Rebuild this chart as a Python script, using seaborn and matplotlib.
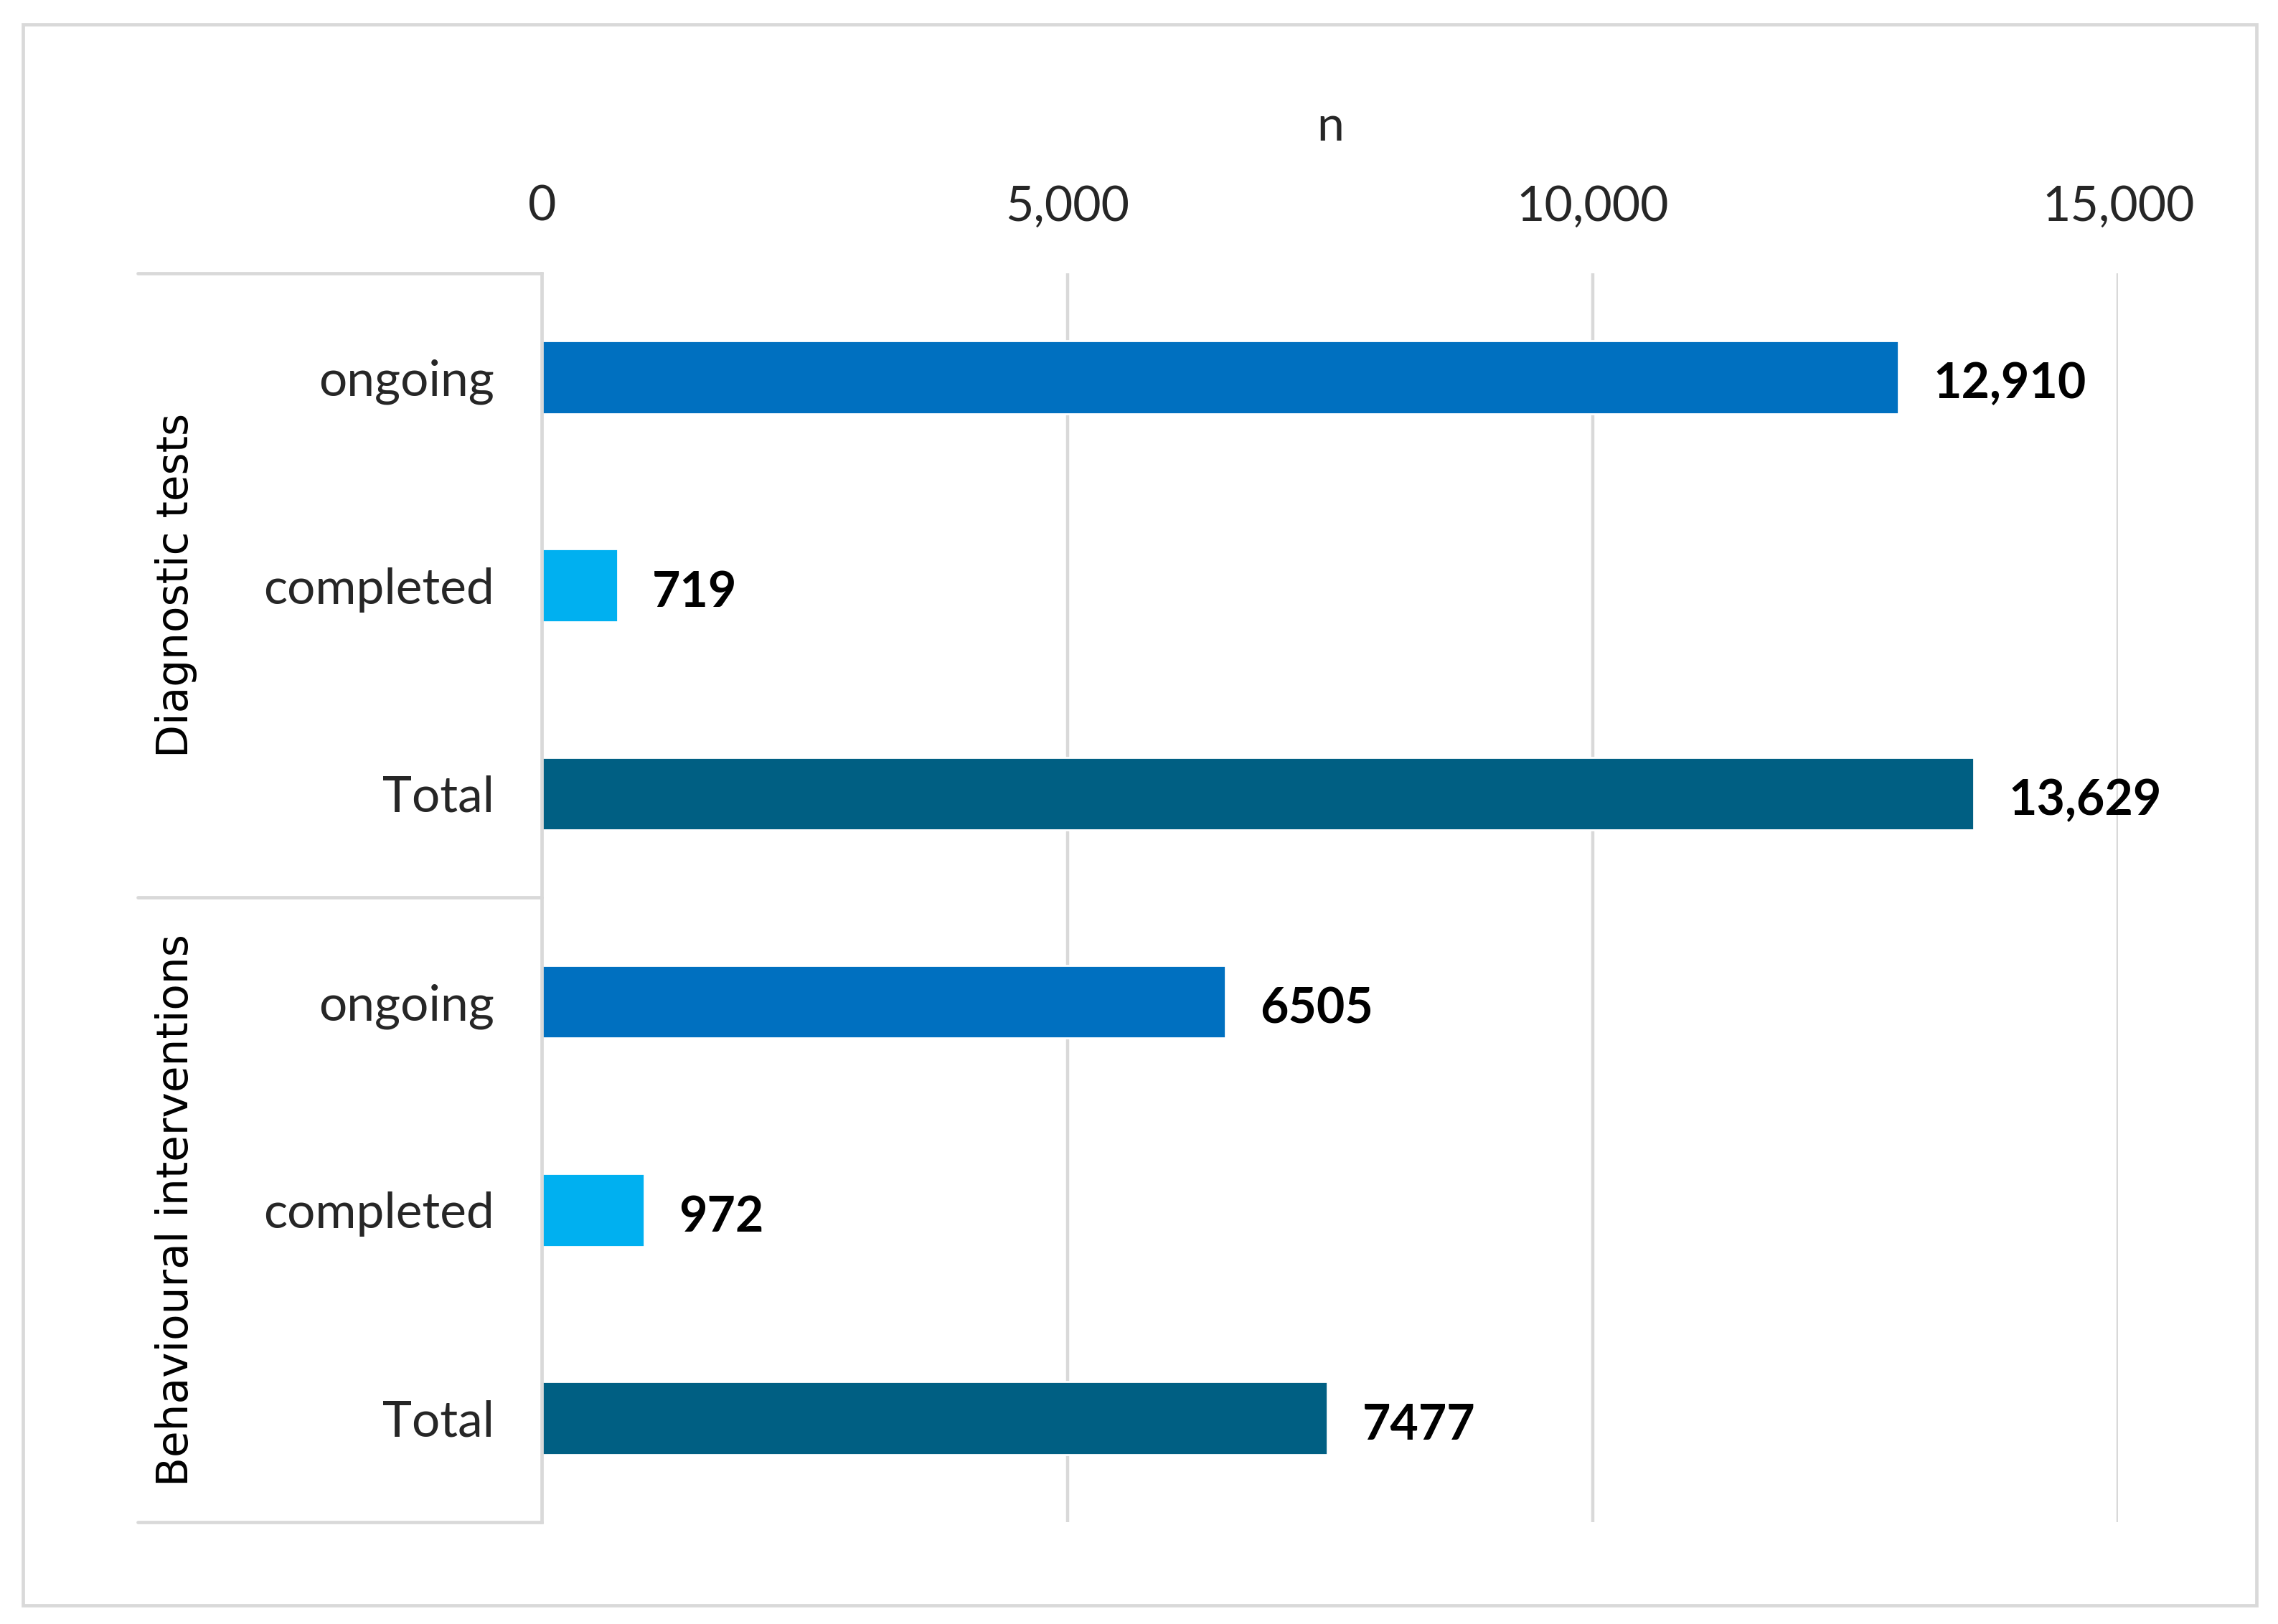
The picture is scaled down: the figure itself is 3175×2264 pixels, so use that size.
import matplotlib
matplotlib.use("Agg")
import matplotlib.pyplot as plt
import matplotlib.transforms as mtransforms
from matplotlib.patches import Rectangle
import seaborn as sns
import pandas as pd

# ---- data ----
groups = ["Diagnostic tests", "Diagnostic tests", "Diagnostic tests",
          "Behavioural interventions", "Behavioural interventions", "Behavioural interventions"]
statuses = ["ongoing", "completed", "Total", "ongoing", "completed", "Total"]
values = [12910, 719, 13629, 6505, 972, 7477]
value_labels = ["12,910", "719", "13,629", "6505", "972", "7477"]
group_names = ["Diagnostic tests", "Behavioural interventions"]
x_ticks = [0, 5000, 10000, 15000]
x_tick_labels = ["0", "5,000", "10,000", "15,000"]
palette = {"ongoing": "#0070C0", "completed": "#00B0F0", "Total": "#005F83"}

df = pd.DataFrame({"group": groups, "status": statuses, "n": values})
df["key"] = df["group"] + "|" + df["status"]

sns.set_theme(style="white")
plt.rcParams["font.family"] = ["Lato", "DejaVu Sans"]

W, H = 3175, 2264
DPI = 200
fig = plt.figure(figsize=(W / DPI, H / DPI), dpi=DPI)

# display-reference coordinates (1568 x 1118)
dw, dh = 1568.0, 1118.0
x0, x15 = 373, 1458
ytop, ybot = 188, 1048
ax = fig.add_axes([x0 / dw, 1 - ybot / dh, (x15 - x0) / dw, (ybot - ytop) / dh])

sns.barplot(data=df, y="key", x="n", hue="status", palette=palette,
            dodge=False, width=0.35, orient="h", ax=ax, legend=False,
            saturation=1, order=list(df["key"]))

ax.set_xlim(0, 15000)
ax.set_ylim(len(df) - 0.5, -0.5)
ax.xaxis.tick_top()
ax.xaxis.set_label_position("top")
ax.set_xticks(x_ticks)
ax.set_xticklabels(x_tick_labels, fontsize=24.5)
ax.set_yticks(range(len(df)))
ax.set_yticklabels(statuses, fontsize=25)
ax.tick_params(axis="x", length=0, pad=22)
ax.tick_params(axis="y", length=0, pad=24)
ax.set_xlabel("n", fontsize=24.5, labelpad=22)
ax.set_ylabel("")

for s in ["top", "right", "bottom"]:
    ax.spines[s].set_visible(False)
ax.spines["left"].set_color("#d9d9d9")
ax.spines["left"].set_linewidth(1.7)
ax.spines["left"].set_zorder(5)

ax.grid(False)
for t in x_ticks[1:]:
    ax.axvline(t, color="#d9d9d9", linewidth=1.6, zorder=0)

# value labels
for i, (v, lab) in enumerate(zip(values, value_labels)):
    ax.text(v + 330, i + 0.035, lab, ha="left", va="center", fontsize=24.5,
            fontweight="bold", color="black")

# group dividers and labels
trans = mtransforms.blended_transform_factory(ax.transAxes, ax.transData)
xl = (95 - x0) / (x15 - x0)
for yy in [-0.5, 2.5, 5.5]:
    ax.plot([xl, 0], [yy, yy], transform=trans, color="#d9d9d9",
            linewidth=1.7, clip_on=False, zorder=5)
xg = (121 - x0) / (x15 - x0)
for gi, g in enumerate(group_names):
    ax.text(xg, 1 + 3 * gi, g, transform=trans, rotation=90, ha="center",
            va="center", fontsize=21.5, family=["DejaVu Sans"], color="black")

# outer border
fig.patches.append(Rectangle((16 / dw, 1 - 1105 / dh), (1553 - 16) / dw,
                             (1105 - 17) / dh, transform=fig.transFigure,
                             fill=False, edgecolor="#d9d9d9", linewidth=1.7))

fig.savefig("out.png", dpi=DPI, facecolor="white")
